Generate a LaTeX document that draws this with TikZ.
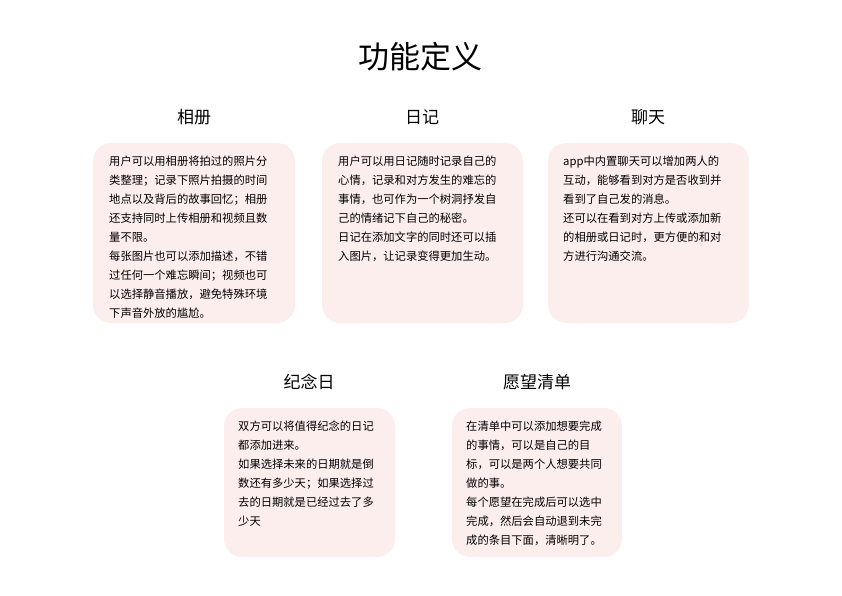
\documentclass[tikz,border=0pt]{standalone}
\usepackage{fontspec}
\setmainfont{Noto Sans CJK SC}
\tikzset{
 card/.style={fill=cardpink,draw=none,rounded corners=18pt},
 head/.style={font=\fontsize{17}{20}\selectfont,anchor=center},
 body/.style={font=\fontsize{11.3}{19}\selectfont,anchor=north west,align=left,inner sep=0pt}
}
\definecolor{cardpink}{HTML}{FDEEEE}
\begin{document}
\begin{tikzpicture}[x=1pt,y=-1pt]
\useasboundingbox (0,0) rectangle (842,595);
\node[font=\fontsize{31}{36}\selectfont] (title) at (420,57) {功能定义};
\node[head] (h1) at (194,117) {相册};
\node[head] (h2) at (422,117) {日记};
\node[head] (h3) at (648,117) {聊天};
\node[head] (h4) at (309,382) {纪念日};
\node[head] (h5) at (537,382) {愿望清单};
\fill[card] (93,143) rectangle (295,323);
\fill[card] (322,143) rectangle (523,323);
\fill[card] (548,143) rectangle (749,323);
\fill[card] (224,408) rectangle (395,557);
\fill[card] (452,408) rectangle (622,557);
\node[body] (t1) at (109,156) {用户可以用相册将拍过的照片分\\类整理；记录下照片拍摄的时间\\地点以及背后的故事回忆；相册\\还支持同时上传相册和视频且数\\量不限。\\每张图片也可以添加描述，不错\\过任何一个难忘瞬间；视频也可\\以选择静音播放，避免特殊环境\\下声音外放的尴尬。};
\node[body] (t2) at (338,156) {用户可以用日记随时记录自己的\\心情，记录和对方发生的难忘的\\事情，也可作为一个树洞抒发自\\己的情绪记下自己的秘密。\\日记在添加文字的同时还可以插\\入图片，让记录变得更加生动。};
\node[body] (t3) at (563,156) {app中内置聊天可以增加两人的\\互动，能够看到对方是否收到并\\看到了自己发的消息。\\还可以在看到对方上传或添加新\\的相册或日记时，更方便的和对\\方进行沟通交流。};
\node[body] (t4) at (238,421) {双方可以将值得纪念的日记\\都添加进来。\\如果选择未来的日期就是倒\\数还有多少天；如果选择过\\去的日期就是已经过去了多\\少天};
\node[body] (t5) at (466,421) {在清单中可以添加想要完成\\的事情，可以是自己的目\\标，可以是两个人想要共同\\做的事。\\每个愿望在完成后可以选中\\完成，然后会自动退到未完\\成的条目下面，清晰明了。};
\end{tikzpicture}
\end{document}
